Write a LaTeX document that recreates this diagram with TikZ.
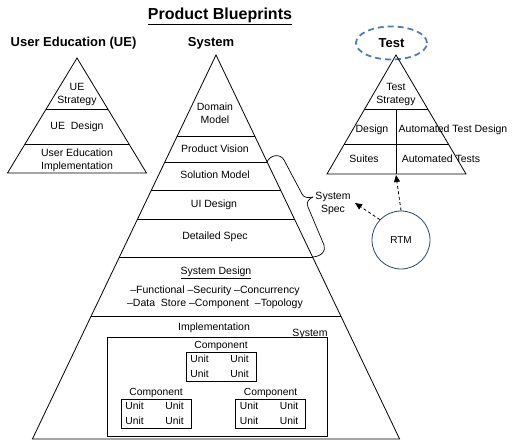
\documentclass[tikz,border=0pt]{standalone}
\usepackage{fontspec}
\setmainfont{Liberation Sans}
\usetikzlibrary{arrows.meta,shapes.geometric}
\definecolor{ellblue}{HTML}{4F7DBA}
\definecolor{rtmcol}{HTML}{2E4766}
\begin{document}
\begin{tikzpicture}[x=1pt,y=-1pt, line width=0.8pt,
 lbl/.style={font=\fontsize{10.5}{13}\selectfont, inner sep=0pt, align=center},
 head/.style={font=\fontsize{13}{15}\selectfont\bfseries, inner sep=0pt},
 unit/.style={font=\fontsize{10.3}{12}\selectfont, inner sep=0pt},
 compbox/.style={draw, minimum width=70, minimum height=29, inner sep=0pt},
 dasharrow/.style={dash pattern=on 3pt off 2.5pt, -{Triangle[length=7pt,width=6pt]}}]
\useasboundingbox (0,0) rectangle (517,442);

% title and headings
\node[inner sep=0pt, font=\fontsize{16}{18}\selectfont\bfseries] (title) at (220,16) {\underline{Product Blueprints}};
\node[head] (hue) at (73.5,43) {User Education (UE)};
\node[head] (hsys) at (211,43) {System};
\node[head, ellipse, draw=ellblue, line width=1.8pt, dash pattern=on 6pt off 4pt, minimum width=71, minimum height=33] (htest) at (391.5,43) {Test};

% UE triangle
\begin{scope}
\clip (77,58) -- (7.5,173) -- (146.5,173) -- cycle;
\foreach \y in {109,144} \draw (0,\y) -- (200,\y);
\end{scope}
\draw (77,58) -- (7.5,173) -- (146.5,173) -- cycle;
\node[lbl] (uestrat) at (77,94.5) {UE\\Strategy};
\node[lbl] (uedes) at (77,126.5) {UE\ \ Design};
\node[lbl] (ueimpl) at (77,160) {User Education\\Implementation};

% System triangle
\begin{scope}
\clip (216,55) -- (32.4,439) -- (399.6,439) -- cycle;
\foreach \y in {136,162,190,219,257,316} \draw (0,\y) -- (517,\y);
\end{scope}
\draw (216,55) -- (32.4,439) -- (399.6,439) -- cycle;
\node[lbl] (dom) at (215,113) {Domain\\Model};
\node[lbl] (pv) at (215,148.5) {Product Vision};
\node[lbl] (sm) at (215,174.5) {Solution Model};
\node[lbl] (uid) at (214,204.5) {UI Design};
\node[lbl] (ds) at (215,236.5) {Detailed Spec};
\node[lbl] (sd) at (216,272.5) {\underline{System Design}};
\node[lbl, font=\fontsize{10.5}{12.5}\selectfont] (sdl) at (215,297.5) {--Functional --Security --Concurrency\\--Data\ \ Store --Component\ \ --Topology};
\node[lbl] (impl) at (214,327.5) {Implementation};
\node[lbl] (syslbl) at (310,333.5) {System};

% implementation box
\node[draw, minimum width=220, minimum height=99, inner sep=0pt] (implbox) at (217,386.5) {};
\foreach \n/\cx/\cy in {c1/221/366.5, c2/156/414, c3/270.5/414}{
  \node[compbox] (\n) at (\cx,\cy) {};
  \node[unit] (\n lab) at (\cx,\cy-21) {Component};
  \node[unit] (\n a) at (\cx-21.5,\cy-8) {Unit};
  \node[unit] (\n b) at (\cx+18.5,\cy-8) {Unit};
  \node[unit] (\n c) at (\cx-21.5,\cy+7) {Unit};
  \node[unit] (\n d) at (\cx+18.5,\cy+7) {Unit};
}

% Test triangle
\begin{scope}
\clip (396,55) -- (327,174) -- (466,174) -- cycle;
\foreach \y in {109,144} \draw (300,\y) -- (500,\y);
\end{scope}
\draw (396,55) -- (327,174) -- (466,174) -- cycle;
\draw (396,109) -- (396,174);
\node[lbl] (tstrat) at (396,94) {Test\\Strategy};
\node[lbl] (tdes) at (372,129.5) {Design};
\node[lbl] (tatd) at (453,129.5) {Automated Test Design};
\node[lbl] (tsui) at (364,158.5) {Suites};
\node[lbl] (tat) at (441,158.5) {Automated Tests};

% System spec brace
\node[lbl] (spec) at (333,203) {System\\Spec};
\draw[line width=0.7pt] (267,162) .. controls (270,155) and (280,153) .. (284,160) -- (302,194) .. controls (304,198) and (308,198) .. (313,197);
\draw[line width=0.7pt] (313,197) .. controls (308,199) and (306,203) .. (308,207) -- (324,245) .. controls (326,251) and (322,256) .. (313,257);

% RTM
\node[circle, draw=rtmcol, minimum size=58, inner sep=0pt, font=\fontsize{10}{12}\selectfont] (rtm) at (401,240) {RTM};
\coordinate (tb) at (396,175);
\coordinate (specend) at (355,203);
\draw[dasharrow] (rtm.north) -- (tb);
\draw[dasharrow] (rtm.136) -- (specend);
\end{tikzpicture}
\end{document}
